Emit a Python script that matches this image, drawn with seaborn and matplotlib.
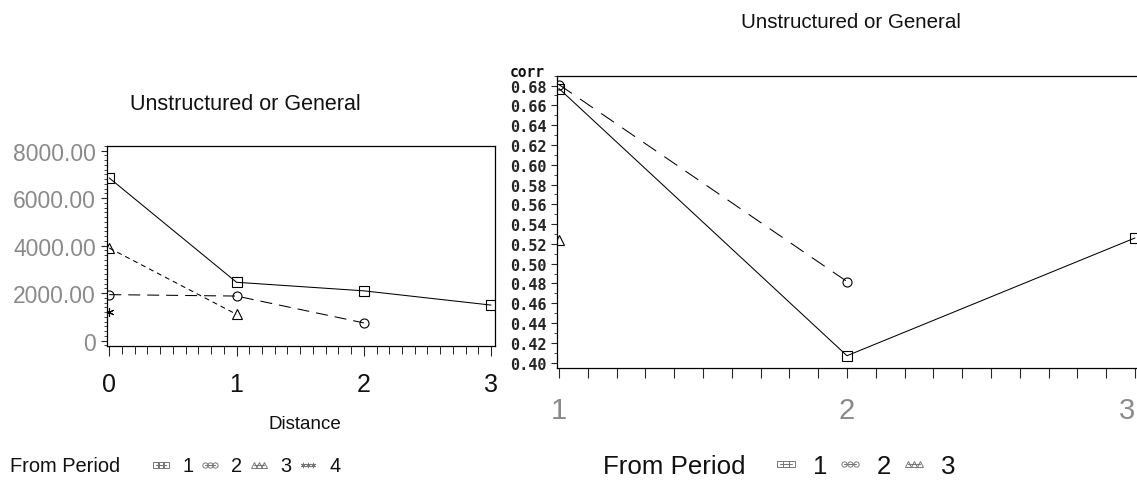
import matplotlib
matplotlib.use('Agg')
import matplotlib.pyplot as plt
from matplotlib.lines import Line2D
from matplotlib.ticker import MultipleLocator
import pandas as pd
import seaborn as sns

# left panel: covariance vs distance, one series per "from period"
left_dist_1 = [0, 1, 2, 3]
left_cov_1 = [6850, 2460, 2100, 1500]
left_dist_2 = [0, 1, 2]
left_cov_2 = [1940, 1880, 750]
left_dist_3 = [0, 1]
left_cov_3 = [3900, 1110]
left_dist_4 = [0]
left_cov_4 = [1200]
left_yticks = [0, 2000, 4000, 6000, 8000]
left_ylabels = ['0', '2000.00', '4000.00', '6000.00', '8000.00']

# right panel: correlation by period
right_x_1 = [1, 2, 3]
right_corr_1 = [0.677, 0.407, 0.526]
right_x_2 = [1, 2]
right_corr_2 = [0.681, 0.482]
right_x_3 = [1]
right_corr_3 = [0.524]
right_yticks = [0.40, 0.42, 0.44, 0.46, 0.48, 0.50, 0.52, 0.54, 0.56, 0.58, 0.60, 0.62, 0.64, 0.66, 0.68]

TITLE = 'Unstructured or General'

W, H = 1137, 489

sns.set_style('ticks')
plt.rcParams['font.family'] = ['Liberation Sans', 'DejaVu Sans']
plt.rcParams['text.color'] = '#111111'

MARKERS = {1: 's', 2: 'o', 3: '^', 4: (6, 2, 0)}
DASHES_L = {1: '', 2: (11.5, 6.7), 3: (4.8, 3.8)}
DASHES_R = {1: '', 2: (15, 9.5), 3: ''}


def frame(xs, ys, period, xname, yname):
    return pd.DataFrame({xname: xs, yname: ys, 'period': period})


left_df = pd.concat([
    frame(left_dist_1, left_cov_1, 1, 'distance', 'cov'),
    frame(left_dist_2, left_cov_2, 2, 'distance', 'cov'),
    frame(left_dist_3, left_cov_3, 3, 'distance', 'cov'),
], ignore_index=True)
left_star = frame(left_dist_4, left_cov_4, 4, 'distance', 'cov')
right_df = pd.concat([
    frame(right_x_1, right_corr_1, 1, 'x', 'corr'),
    frame(right_x_2, right_corr_2, 2, 'x', 'corr'),
    frame(right_x_3, right_corr_3, 3, 'x', 'corr'),
], ignore_index=True)

line_kws = dict(linewidth=0.75, markersize=6.5, markerfacecolor='none',
                markeredgecolor='black', markeredgewidth=0.8)


def px(x, y):
    return x / W, 1 - y / H


fig = plt.figure(figsize=(W / 100, H / 100), dpi=100)

# ---------- left panel ----------
ax_l = fig.add_axes([107 / W, 1 - 346.7 / H, 388 / W, 200 / H])
sns.lineplot(data=left_df, x='distance', y='cov', hue='period', style='period',
             palette={p: 'black' for p in (1, 2, 3)}, markers={p: MARKERS[p] for p in (1, 2, 3)},
             dashes=DASHES_L, estimator=None, legend=False, ax=ax_l, **line_kws)
# period 4 has a single point drawn as an asterisk (line-art marker, kept apart)
sns.lineplot(data=left_star, x='distance', y='cov', color='black', marker=MARKERS[4],
             estimator=None, legend=False, ax=ax_l, **line_kws)
ax_l.set_xlim(-0.018, 3.031)
ax_l.set_ylim(-210, 8210)
ax_l.set_xticks([0, 1, 2, 3])
ax_l.set_xticklabels(['0', '1', '2', '3'])
ax_l.xaxis.set_minor_locator(MultipleLocator(0.1))
ax_l.set_yticks(left_yticks)
ax_l.set_yticklabels(left_ylabels)
ax_l.yaxis.set_minor_locator(MultipleLocator(200))
ax_l.set_xlabel('')
ax_l.set_ylabel('')
ax_l.tick_params(axis='x', which='major', length=7, width=0.8, pad=12, labelsize=18, labelcolor='#111111')
ax_l.tick_params(axis='x', which='minor', length=5.5, width=0.7)
ax_l.tick_params(axis='y', which='major', length=4, width=0.8, pad=4, labelsize=16.5, labelcolor='#8a8a8a')
ax_l.tick_params(axis='y', which='minor', length=2.5, width=0.6)
for sp in ax_l.spines.values():
    sp.set_visible(True)
    sp.set_linewidth(0.9)
    sp.set_color('black')

fig.text(*px(245, 104), TITLE, ha='center', va='center', fontsize=15.5)
fig.text(*px(305, 425), 'Distance', ha='center', va='center', fontsize=13.5)

# ---------- right panel ----------
ax_r = fig.add_axes([556.7 / W, 1 - 369.3 / H, (1145 - 556.7) / W, (369.3 - 76.7) / H])
sns.lineplot(data=right_df, x='x', y='corr', hue='period', style='period',
             palette={p: 'black' for p in (1, 2, 3)}, markers={p: MARKERS[p] for p in (1, 2, 3)},
             dashes=DASHES_R, estimator=None, legend=False, ax=ax_r, **line_kws)
ax_r.set_xlim(0.992, 3.035)
ax_r.set_ylim(0.3943, 0.690)
ax_r.set_xticks([1, 2, 3])
ax_r.set_xticklabels(['1', '2', '3'])
ax_r.xaxis.set_minor_locator(MultipleLocator(0.1))
ax_r.set_yticks(right_yticks)
ax_r.set_yticklabels([f'{v:.2f}' for v in right_yticks])
ax_r.yaxis.set_minor_locator(MultipleLocator(0.01))
ax_r.set_xlabel('')
ax_r.set_ylabel('')
ax_r.tick_params(axis='x', which='both', length=7, width=0.8, pad=13, labelsize=21, labelcolor='#8a8a8a')
ax_r.tick_params(axis='y', which='major', length=4.5, width=0.8, pad=3, labelsize=11)
ax_r.tick_params(axis='y', which='minor', length=2.5, width=0.6)
# the last tick label sits on the figure edge; keep it inside
ax_r.get_xticklabels()[-1].set_horizontalalignment('right')
for lbl in ax_r.get_yticklabels():
    lbl.set_fontfamily('DejaVu Sans Mono')
    lbl.set_fontweight('bold')
for sp in ax_r.spines.values():
    sp.set_visible(True)
    sp.set_linewidth(0.9)
    sp.set_color('black')

fig.text(*px(510, 72.7), 'corr', ha='left', va='center', fontsize=10.5,
         family='DejaVu Sans Mono', fontweight='bold')
fig.text(*px(851, 22), TITLE, ha='center', va='center', fontsize=14.8)

# ---------- legends ----------
def legend_handles(periods):
    out = []
    for p in periods:
        out.append(Line2D([], [], color='#777777', linewidth=0.8, marker=MARKERS[p], markersize=3.8,
                          markerfacecolor='none', markeredgecolor='#777777', markeredgewidth=0.7,
                          linestyle='none' if p == 4 else '-'))
    return out


fig.text(*px(10, 467), 'From Period', ha='left', va='center', fontsize=14.4)
fig.legend(legend_handles([1, 2, 3, 4]), ['1', '2', '3', '4'], loc='center left',
           bbox_to_anchor=px(150, 467), ncol=4, frameon=False, numpoints=3,
           handlelength=1.1, handletextpad=0.5, columnspacing=0.3,
           borderpad=0, borderaxespad=0, prop={'size': 14.4})

fig.text(*px(603, 467), 'From Period', ha='left', va='center', fontsize=18.6)
fig.legend(legend_handles([1, 2, 3]), ['1', '2', '3'], loc='center left',
           bbox_to_anchor=px(772, 467), ncol=3, frameon=False, numpoints=3,
           handlelength=1.08, handletextpad=0.5, columnspacing=0.35,
           borderpad=0, borderaxespad=0, prop={'size': 18.6})

fig.savefig('out.png', dpi=100)
plt.close(fig)
